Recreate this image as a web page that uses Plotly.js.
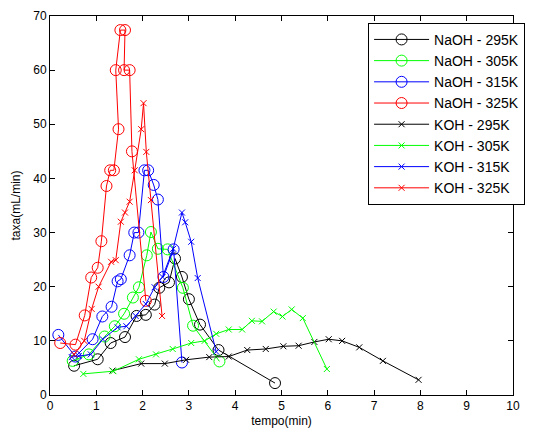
<!DOCTYPE html>
<html>
<head>
<meta charset="utf-8">
<script src="https://cdn.plot.ly/plotly-3.0.1.min.js"></script>
<style>html,body{margin:0;padding:0;background:#fff;}#chart{width:541px;height:434px;}</style>
</head>
<body>
<div id="chart"></div>
<script>
// NaOH series (open circles)
var naoh295X = [0.52, 1.03, 1.31, 1.62, 1.87, 2.07, 2.26, 2.36, 2.57, 2.70, 2.85, 3.00, 3.24, 3.64, 4.86];
var naoh295Y = [5.4, 6.6, 9.6, 10.7, 14.6, 14.8, 16.7, 19.8, 20.8, 25.2, 21.8, 17.7, 13.0, 8.3, 2.2];

var naoh305X = [0.49, 0.84, 1.18, 1.40, 1.60, 1.79, 1.92, 2.09, 2.18, 2.33, 2.54, 2.87, 3.09, 3.66];
var naoh305Y = [6.3, 7.5, 10.8, 12.7, 15.0, 18.0, 19.9, 25.8, 30.1, 27.0, 26.9, 19.8, 12.8, 6.2];

var naoh315X = [0.18, 0.55, 0.92, 1.13, 1.33, 1.46, 1.53, 1.72, 1.82, 1.91, 2.04, 2.12, 2.24, 2.33, 2.45, 2.67, 2.85];
var naoh315Y = [11.1, 7.1, 10.3, 14.5, 16.3, 21.0, 21.4, 25.8, 30.0, 30.0, 41.5, 41.5, 38.8, 36.1, 21.8, 26.9, 6.0];

var naoh325X = [0.22, 0.55, 0.75, 0.89, 1.03, 1.11, 1.22, 1.30, 1.38, 1.48, 1.42, 1.52, 1.62, 1.60, 1.72, 1.77, 2.07];
var naoh325Y = [9.6, 9.3, 14.7, 21.7, 23.5, 28.4, 38.6, 41.5, 41.5, 49.1, 60.0, 67.4, 67.4, 60.0, 60.0, 45.0, 17.4];

// KOH series (x markers)
var koh295X = [1.35, 1.97, 2.48, 2.94, 3.44, 3.86, 4.26, 4.66, 5.04, 5.37, 5.71, 6.02, 6.31, 6.68, 7.19, 7.96];
var koh295Y = [4.5, 5.8, 5.8, 6.5, 7.0, 7.1, 8.3, 8.5, 9.0, 9.1, 9.8, 10.3, 10.0, 8.8, 6.3, 2.8];

var koh305X = [0.72, 1.37, 1.92, 2.29, 2.65, 3.05, 3.34, 3.59, 3.86, 4.15, 4.36, 4.58, 4.83, 5.02, 5.22, 5.46, 5.98];
var koh305Y = [3.9, 4.4, 6.6, 7.5, 8.5, 9.6, 10.0, 11.3, 12.1, 12.1, 13.7, 13.6, 15.4, 14.5, 15.8, 14.2, 4.8];

var koh315X = [0.47, 0.62, 0.88, 1.14, 1.46, 1.65, 1.85, 2.07, 2.26, 2.43, 2.66, 2.85, 2.92, 3.05, 3.19, 3.59];
var koh315Y = [7.0, 7.2, 7.5, 10.3, 12.5, 12.7, 14.6, 16.8, 19.9, 21.8, 27.0, 33.7, 31.9, 28.3, 21.6, 8.0];

var koh325X = [0.52, 0.74, 0.90, 1.05, 1.32, 1.42, 1.53, 1.62, 1.72, 1.83, 1.97, 2.02, 2.08, 2.18, 2.42];
var koh325Y = [7.5, 10.0, 15.9, 20.0, 24.6, 24.9, 32.0, 33.7, 35.7, 41.5, 49.1, 53.9, 44.9, 36.0, 14.6];

var names = ['NaOH - 295K','NaOH - 305K','NaOH - 315K','NaOH - 325K','KOH - 295K','KOH - 305K','KOH - 315K','KOH - 325K'];
var colors = ['#000000','#00ff00','#0000ff','#ff0000'];

var xs = [naoh295X, naoh305X, naoh315X, naoh325X, koh295X, koh305X, koh315X, koh325X];
var ys = [naoh295Y, naoh305Y, naoh315Y, naoh325Y, koh295Y, koh305Y, koh315Y, koh325Y];

var traces = [];
for (var i = 0; i < 8; i++) {
  var isCircle = i < 4;
  var c = colors[i % 4];
  traces.push({
    x: xs[i], y: ys[i], name: names[i], type: 'scatter', mode: 'lines+markers',
    line: {color: c, width: 1},
    marker: isCircle
      ? {symbol: 'circle-open', size: 11, color: c, line: {color: c, width: 1}}
      : {symbol: 'x-thin-open', size: 6, color: c, line: {color: c, width: 1}}
  });
}

var fontFam = 'Liberation Sans, Arial, sans-serif';
var axisCommon = {
  showline: true, linecolor: '#000', linewidth: 1, mirror: 'ticks',
  ticks: 'inside', ticklen: 5, tickcolor: '#000', tickwidth: 1,
  showgrid: false, zeroline: false,
  tickfont: {family: fontFam, size: 12, color: '#000'}
};

var layout = {
  width: 541, height: 434,
  margin: {l: 50, r: 28, t: 16, b: 39},
  paper_bgcolor: '#fff', plot_bgcolor: '#fff',
  showlegend: true,
  xaxis: Object.assign({}, axisCommon, {
    range: [0, 10], dtick: 1, tick0: 0,
    title: {text: 'tempo(min)', font: {family: fontFam, size: 12, color: '#000'}, standoff: 4}
  }),
  yaxis: Object.assign({}, axisCommon, {
    range: [0, 70], dtick: 10, tick0: 0,
    title: {text: 'taxa(mL/min)', font: {family: fontFam, size: 12, color: '#000'}, standoff: 10}
  }),
  legend: {
    x: 0.687, y: 0.982, xanchor: 'left', yanchor: 'top',
    bgcolor: '#fff', bordercolor: '#000', borderwidth: 1,
    font: {family: fontFam, size: 14, color: '#000'},
    tracegroupgap: 0, itemwidth: 55
  }
};

Plotly.newPlot('chart', traces, layout, {displayModeBar: false, staticPlot: true});
</script>
</body>
</html>
